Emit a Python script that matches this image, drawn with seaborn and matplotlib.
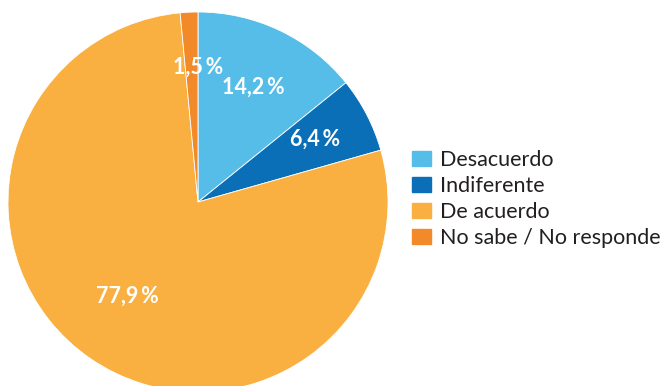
import numpy as np
import matplotlib
matplotlib.use("Agg")
import matplotlib.pyplot as plt
import seaborn as sns

categories = ["Desacuerdo", "Indiferente", "De acuerdo", "No sabe / No responde"]
values = [14.2, 6.4, 77.9, 1.5]
labels = ["14,2\u2009%", "6,4\u2009%", "77,9\u2009%", "1,5\u2009%"]
colors = ["#55BDE8", "#0A6FB7", "#F9B041", "#F28A2A"]

sns.set_theme(style="white")
plt.rcParams['font.family'] = ['Lato', 'DejaVu Sans']

fig = plt.figure(figsize=(6.6, 3.86), dpi=100)
# pie center at (198, 202) px, radius 190 px
ax = fig.add_axes([8/660, (386-392)/386, 380/660, 380/386])
wedges, _ = ax.pie(values, colors=colors, startangle=90, counterclock=False,
                   radius=1.0, wedgeprops=dict(edgecolor="white", linewidth=0.6))
ax.set_xlim(-1, 1)
ax.set_ylim(-1, 1)
ax.set_aspect("equal")

label_r = [0.67, 0.70, 0.62, 0.71]
label_dtheta = [0, 1.0, -2.5, -2.7]
for w, lab, r, dt in zip(wedges, labels, label_r, label_dtheta):
    th = np.deg2rad((w.theta1 + w.theta2) / 2 + dt)
    ax.text(r*np.cos(th), r*np.sin(th), lab, ha="center", va="center",
            color="white", fontsize=15.5, fontweight="bold")

handles = [plt.Rectangle((0, 0), 1, 1, color=c) for c in colors]
fig.legend(handles, categories, loc="center left", bbox_to_anchor=(412/660, 1-199/386),
           frameon=False, fontsize=15.5, handlelength=0.9, handleheight=0.7,
           handletextpad=0.4, labelspacing=0.29, borderaxespad=0, borderpad=0,
           labelcolor="#231F20")

fig.savefig("out.png", dpi=100)
